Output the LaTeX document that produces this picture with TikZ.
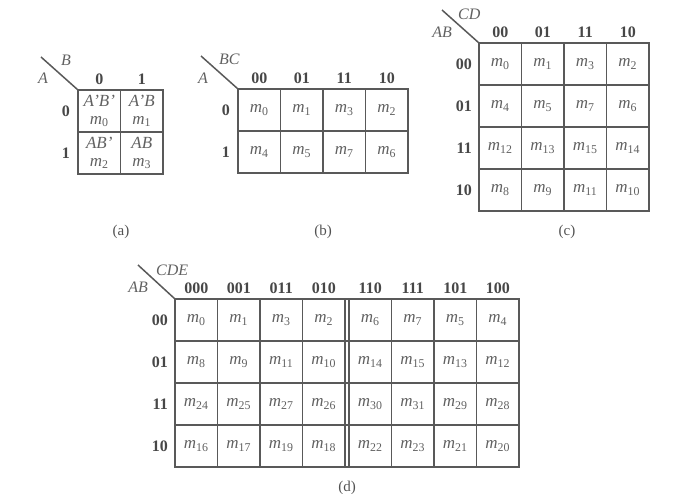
\documentclass[tikz,border=0pt]{standalone}
\usepackage{fontspec}
\setmainfont{Liberation Serif}
\usetikzlibrary{positioning}

\tikzset{
  kgrid/.style={draw=black!65, line width=1.5pt},
  cell/.style={text=black!62, font=\fontsize{17}{18}\selectfont, inner sep=0pt},
  lbl/.style={text=black!72, font=\fontsize{16}{17}\selectfont\bfseries, inner sep=0pt},
  var/.style={text=black!62, font=\fontsize{16}{17}\selectfont\itshape, inner sep=0pt},
  mapcap/.style={text=black!68, font=\fontsize{15}{16}\selectfont}
}
\newcommand{\mt}[1]{\textit{m}\textsubscript{#1}}

\begin{document}
\begin{tikzpicture}[x=1pt,y=-1pt]
\useasboundingbox (0,0) rectangle (682,494);

% (a) two variables
\begin{scope}[shift={(78,90)}]
\draw[kgrid] (0,0) rectangle (85,84);
\draw[kgrid] (42.5,0) -- (42.5,84) (0,42) -- (85,42);
\draw[kgrid] (0,0) -- (-37,-33);
\node[var,anchor=west] (aB) at (-17,-30) {B};
\node[var,anchor=east] (aA) at (-30,-12) {A};
\foreach\v [count=\i from 0] in {0,1} {
\node[lbl] (acol\i) at (\i*42.5+21.25,-11) {\v};
\node[lbl,anchor=east] (arow\i) at (-8,\i*42+21) {\v};
}
\node[cell,align=center] (a00) at (21.25,21) {\textit{A'B'}\\\mt{0}};
\node[cell,align=center] (a01) at (63.75,21) {\textit{A'B}\\\mt{1}};
\node[cell,align=center] (a10) at (21.25,63) {\textit{AB'}\\\mt{2}};
\node[cell,align=center] (a11) at (63.75,63) {\textit{AB}\\\mt{3}};
\node[mapcap] (capa) at (43,142) {(a)};
\end{scope}

% (b) three variables
\begin{scope}[shift={(238,89)}]
\draw[kgrid] (0,0) rectangle (170,84);
\foreach\x in {42.5,85,127.5} \draw[kgrid] (\x,0) -- (\x,84);
\draw[kgrid] (0,42) -- (170,42);
\draw[kgrid] (0,0) -- (-37,-33);
\node[var,anchor=west] (bBC) at (-19,-30) {BC};
\node[var,anchor=east] (bA) at (-30,-11) {A};
\foreach\v [count=\i from 0] in {00,01,11,10}
\node[lbl] (bcol\i) at (\i*42.5+21.25,-11) {\v};
\foreach\v [count=\i from 0] in {0,1}
\node[lbl,anchor=east] (brow\i) at (-8,\i*42+21) {\v};
\foreach\cv [count=\c from 0] in {0,1,3,2}
\foreach\rv [count=\r from 0] in {0,1} {
\pgfmathtruncatemacro\m{4*\rv+\cv}
\node[cell] (b-\r-\c) at (\c*42.5+21.25,\r*42+21) {\mt{\m}};
}
\node[mapcap] (capb) at (85,143) {(b)};
\end{scope}

% (c) four variables
\begin{scope}[shift={(479,43)}]
\draw[kgrid] (0,0) rectangle (170,168);
\foreach\x in {42.5,85,127.5} \draw[kgrid] (\x,0) -- (\x,168);
\foreach\y in {42,84,126} \draw[kgrid] (0,\y) -- (170,\y);
\draw[kgrid] (0,0) -- (-37,-33);
\node[var,anchor=west] (cCD) at (-21,-29) {CD};
\node[var,anchor=east] (cAB) at (-27,-11) {AB};
\foreach\v [count=\i from 0] in {00,01,11,10} {
\node[lbl] (ccol\i) at (\i*42.5+21.25,-11) {\v};
\node[lbl,anchor=east] (crow\i) at (-7,\i*42+21) {\v};
}
\foreach\cv [count=\c from 0] in {0,1,3,2}
\foreach\rv [count=\r from 0] in {0,1,3,2} {
\pgfmathtruncatemacro\m{4*\rv+\cv}
\node[cell] (c-\r-\c) at (\c*42.5+21.25,\r*42+21) {\mt{\m}};
}
\node[mapcap] (capc) at (88,189) {(c)};
\end{scope}

% (d) five variables, two halves
\begin{scope}[shift={(175,299)}]
\draw[kgrid] (0,0) rectangle (344,168);
\foreach\x in {42.5,85,127.5,170,174,216.5,259,301.5} \draw[kgrid] (\x,0) -- (\x,168);
\foreach\y in {42,84,126} \draw[kgrid] (0,\y) -- (344,\y);
\draw[kgrid] (0,0) -- (-37,-34);
\node[var,anchor=west] (dCDE) at (-19,-29) {CDE};
\node[var,anchor=east] (dAB) at (-27,-12) {AB};
\foreach\v [count=\i from 0] in {000,001,011,010,110,111,101,100} {
\pgfmathsetmacro\x{\i*42.5+(\i>3)*4+21.25}
\node[lbl] (dcol\i) at (\x,-11) {\v};
}
\foreach\v [count=\i from 0] in {00,01,11,10}
\node[lbl,anchor=east] (drow\i) at (-7,\i*42+21) {\v};
\foreach\cv [count=\c from 0] in {0,1,3,2,6,7,5,4}
\foreach\rv [count=\r from 0] in {0,1,3,2} {
\pgfmathtruncatemacro\m{8*\rv+\cv}
\pgfmathsetmacro\x{\c*42.5+(\c>3)*4+21.25}
\node[cell] (d-\r-\c) at (\x,\r*42+21) {\mt{\m}};
}
\node[mapcap] (capd) at (172,189) {(d)};
\end{scope}
\end{tikzpicture}
\end{document}
